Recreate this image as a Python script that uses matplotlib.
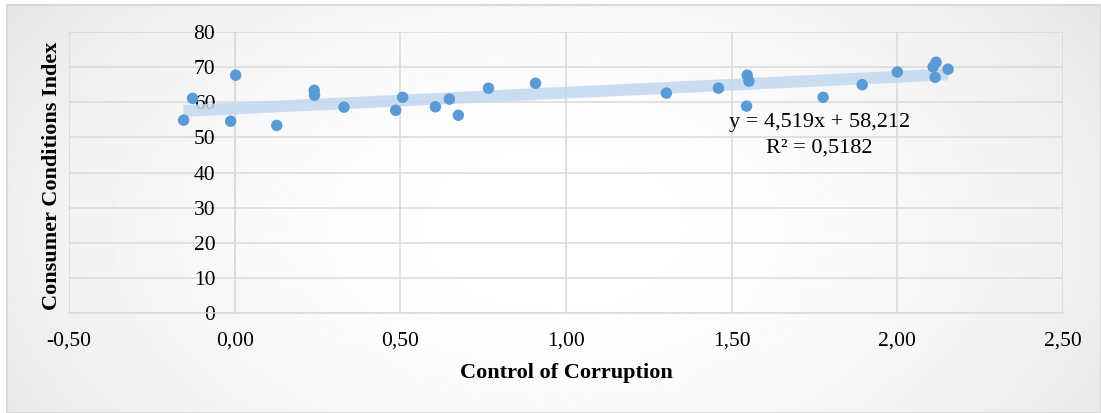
import numpy as np
import matplotlib
matplotlib.use("Agg")
from matplotlib import pyplot as plt
from matplotlib.ticker import FuncFormatter

# control of corruption (x) vs consumer conditions index (y)
control_corruption = [-0.154, -0.127, -0.012, 0.003, 0.127, 0.240, 0.241, 0.330,
                      0.486, 0.507, 0.606, 0.648, 0.675, 0.766, 0.908, 1.303,
                      1.460, 1.547, 1.552, 1.545, 1.776, 1.894, 2.000, 2.117,
                      2.108, 2.114, 2.153]
consumer_index = [54.9, 61.1, 54.6, 67.7, 53.4, 63.4, 62.0, 58.6,
                  57.7, 61.4, 58.7, 60.9, 56.3, 64.0, 65.4, 62.6,
                  64.0, 67.7, 66.0, 58.9, 61.4, 65.0, 68.6, 71.4,
                  70.1, 67.1, 69.4]
slope = 4.519
intercept = 58.212
eq_text = "y = 4,519x + 58,212"
r2_text = "R² = 0,5182"
x_ticks = [-0.5, 0.0, 0.5, 1.0, 1.5, 2.0, 2.5]
y_ticks = [0, 10, 20, 30, 40, 50, 60, 70, 80]

plt.rcParams['font.family'] = ['Liberation Serif', 'DejaVu Serif']

W, H = 1101, 413
fig = plt.figure(figsize=(W / 100, H / 100), dpi=100)

# chart area background with soft radial gradient + thin border
bg = fig.add_axes([7 / W, 0, 1 - 7 / W, 1 - 5 / H])
yy, xx = np.mgrid[0:1:200j, 0:1:500j]
r2 = ((xx - 0.5) / 0.55) ** 2 + ((yy - 0.55) / 0.9) ** 2
shade = 1.0 - 0.08 * np.clip(r2, 0, 1.6)
bg.imshow(shade, cmap='gray', vmin=0, vmax=1, aspect='auto',
          extent=[0, 1, 0, 1], interpolation='bilinear')
bg.set_xlim(0, 1)
bg.set_ylim(0, 1)
bg.set_xticks([])
bg.set_yticks([])
for s in bg.spines.values():
    s.set_color('#d9d9d9')
    s.set_linewidth(1.5)
bg.set_zorder(0)

left, right = 69 / W, 1063 / W
bottom, top = 1 - 313 / H, 1 - 32 / H
ax = fig.add_axes([left, bottom, right - left, top - bottom])
ax.set_zorder(1)
ax.patch.set_alpha(0)

ax.set_xlim(-0.5, 2.5)
ax.set_ylim(0, 80)
ax.set_xticks(x_ticks)
ax.set_yticks(y_ticks)
ax.xaxis.set_major_formatter(FuncFormatter(lambda v, p: f"{v:.2f}".replace('.', ',')))
ax.yaxis.set_major_formatter(FuncFormatter(lambda v, p: f"{v:.0f}"))
ax.grid(True, color='#d9d9d9', linewidth=1.1)
ax.set_axisbelow(True)

for name in ['top', 'right']:
    ax.spines[name].set_visible(False)
ax.spines['left'].set_position(('data', 0))
ax.spines['left'].set_color('#d9d9d9')
ax.spines['left'].set_linewidth(1.1)
ax.spines['bottom'].set_color('#d9d9d9')
ax.spines['bottom'].set_linewidth(1.1)

ax.tick_params(axis='both', length=0, labelsize=15.5, colors='black')
ax.tick_params(axis='y', pad=14)
ax.tick_params(axis='x', pad=13)

# trendline band
xs = np.array([min(control_corruption), max(control_corruption)])
ax.plot(xs, slope * xs + intercept, color='#c2d8ef', linewidth=8.5,
        solid_capstyle='butt', alpha=0.85, zorder=2)

ax.scatter(control_corruption, consumer_index, s=68, color='#5b9bd5',
           edgecolors='none', zorder=3)

ax.text(1.764, 54.3, eq_text, ha='center', va='center', fontsize=16, zorder=4)
ax.text(1.764, 47.1, r2_text, ha='center', va='center', fontsize=16, zorder=4)

fig.text((left + right) / 2, 1 - 373 / H, "Control of Corruption", ha='center',
         va='center', fontsize=16, fontweight='bold')
fig.text(52 / W, 1 - 176 / H, "Consumer Conditions Index", ha='center',
         va='center', rotation=90, fontsize=16, fontweight='bold')

fig.savefig("out.png", dpi=100)
